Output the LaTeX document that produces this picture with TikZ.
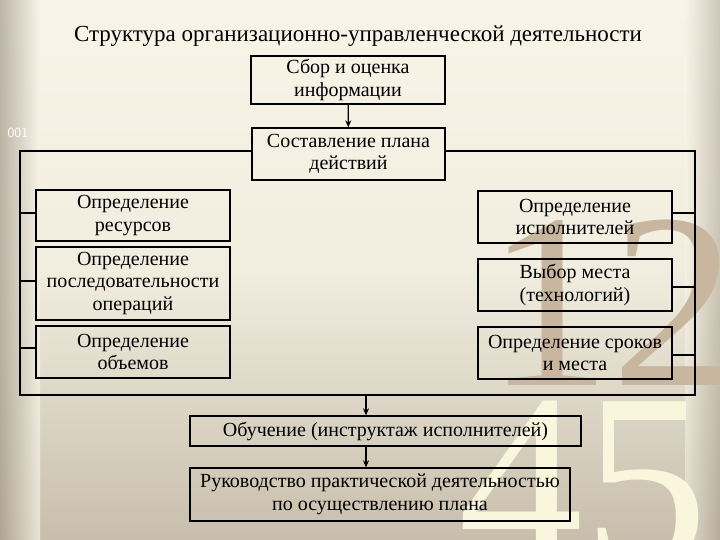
\documentclass[tikz,border=0pt]{standalone}
\usepackage{fontspec}
\setmainfont{Liberation Serif}
\usetikzlibrary{arrows.meta}
\definecolor{bgtop}{RGB}{248,245,232}
\definecolor{bgbot}{RGB}{200,190,172}
\definecolor{edge}{RGB}{165,155,140}
\definecolor{numtan}{RGB}{200,182,158}
\definecolor{numyel}{RGB}{250,246,222}
\tikzset{
  box/.style={draw=black, line width=1.3pt, inner sep=1pt, align=center, font=\fontsize{20}{22.5}\selectfont},
  wire/.style={line width=1.3pt},
  arr/.style={line width=1.3pt, -{Stealth[length=7pt,width=6pt]}}
}
\begin{document}
\begin{tikzpicture}[x=1pt,y=-1pt]
\useasboundingbox (0,0) rectangle (720,540);
\shade[top color=bgtop, bottom color=bgbot, middle color=bgtop!85!bgbot] (0,0) rectangle (720,540);
\shade[left color=edge, right color=bgtop, opacity=0.7] (0,0) rectangle (40,540);
\shade[left color=bgtop, right color=edge, opacity=0.5] (685,0) rectangle (720,540);
\node[font=\fontsize{250}{250}\selectfont, text=numtan, anchor=base east] (n12) at (740,385) {12};
\node[font=\fontsize{250}{250}\selectfont, text=numyel, anchor=base east] (n45) at (712,565) {45};
\node[font=\sffamily\fontsize{14}{14}\selectfont, text=white, anchor=west] (n001) at (4,133) {001};
\node[font=\fontsize{23}{26}\selectfont] (title) at (358,36) {Структура организационно-управленческой деятельности};
\node[box, minimum width=194pt, minimum height=48pt] (sbor) at (348,80) {Сбор и оценка\\информации};
\node[box, minimum width=193pt, minimum height=52pt] (sost) at (348.5,154) {Составление плана\\действий};
\node[box, minimum width=194pt, minimum height=51pt] (l1) at (133,215.5) {Определение\\ресурсов};
\node[box, minimum width=194pt, minimum height=73pt] (l2) at (133,283.5) {Определение\\последовательности\\операций};
\node[box, minimum width=194pt, minimum height=52pt] (l3) at (133,352) {Определение\\объемов};
\node[box, minimum width=194pt, minimum height=52pt] (r1) at (575,217) {Определение\\исполнителей};
\node[box, minimum width=194pt, minimum height=52pt] (r2) at (575,285) {Выбор места\\(технологий)};
\node[box, minimum width=194pt, minimum height=52pt] (r3) at (575,353) {Определение сроков\\и места};
\node[box, minimum width=391pt, minimum height=30pt] (obuch) at (385.5,431) {Обучение (инструктаж исполнителей)};
\node[box, minimum width=380pt, minimum height=53pt] (ruk) at (380,494.5) {Руководство практической деятельностью\\по осуществлению плана};
\coordinate (fTL) at (20,151); \coordinate (fBL) at (20,395);
\coordinate (fTR) at (695,151); \coordinate (fBR) at (695,395);
\draw[wire] (sost.west |- fTL) -- (fTL) -- (fBL) -- (fBR) -- (fTR) -- (sost.east |- fTR);
\draw[arr] (sbor) -- (sost);
\coordinate (fOut) at (366,395);
\draw[arr] (fOut) -- (fOut |- obuch.north);
\draw[arr] (fOut |- obuch.south) -- (fOut |- ruk.north);
\foreach \n/\yy in {l1/213, l2/281, l3/348} \draw[wire] (20,\yy) -- (\n.west |- 0,\yy);
\foreach \n/\yy in {r1/213, r2/287, r3/355} \draw[wire] (695,\yy) -- (\n.east |- 0,\yy);
\end{tikzpicture}
\end{document}
